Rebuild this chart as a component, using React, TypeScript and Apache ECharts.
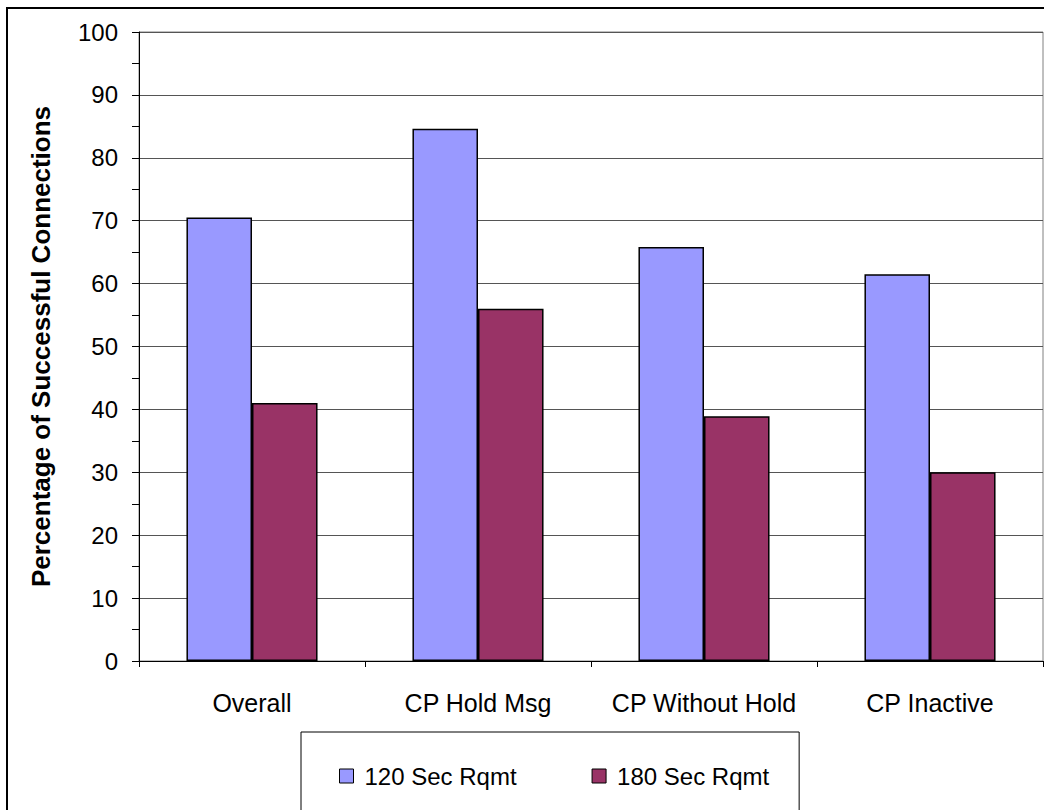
import React, { useEffect, useRef } from "react";
import * as echarts from "echarts";

const categories = ["Overall", "CP Hold Msg", "CP Without Hold", "CP Inactive"];
const seriesNames = ["120 Sec Rqmt", "180 Sec Rqmt"];
const rqmt120 = [70.5, 84.6, 65.8, 61.5];
const rqmt180 = [41, 56, 38.9, 30];
const yTicks = { min: 0, max: 100, interval: 10 };
const yTitle = "Percentage of Successful Connections";

const FONT = "'Liberation Sans', Arial, sans-serif";

export default function App() {
  const ref = useRef<HTMLDivElement>(null);

  useEffect(() => {
    if (!ref.current) return;
    const chart = echarts.init(ref.current, null, { renderer: "svg" });
    chart.setOption({
      animation: false,
      backgroundColor: "#ffffff",
      textStyle: { fontFamily: FONT },
      graphic: [
        {
          type: "rect",
          shape: { x: 7, y: 8, width: 1200, height: 1000 },
          style: { fill: "none", stroke: "#000", lineWidth: 2 },
          silent: true,
          z: 100,
        },
      ],
      grid: {
        left: 139,
        top: 32,
        right: 1,
        bottom: 149,
        show: true,
        borderColor: "#808080",
        borderWidth: 1,
        containLabel: false,
      },
      legend: {
        left: 301,
        top: 732,
        orient: "horizontal",
        padding: [32, 30, 40, 38],
        borderColor: "#000",
        borderWidth: 1,
        itemWidth: 14,
        itemHeight: 14,
        itemGap: 75,
        icon: "rect",
        textStyle: {
          fontFamily: FONT,
          fontSize: 24,
          color: "#000",
          padding: [0, 0, 0, 6],
        },
        data: seriesNames.map((n) => ({
          name: n,
          itemStyle: { borderColor: "#000", borderWidth: 1 },
        })),
      },
      xAxis: {
        type: "category",
        data: categories,
        axisLine: { lineStyle: { color: "#000", width: 1 } },
        axisTick: { show: true, interval: 0, length: 6, lineStyle: { color: "#000" } },
        axisLabel: {
          interval: 0,
          fontFamily: FONT,
          fontSize: 25,
          color: "#000",
          margin: 29,
        },
        splitLine: { show: false },
      },
      yAxis: {
        type: "value",
        min: yTicks.min,
        max: yTicks.max,
        interval: yTicks.interval,
        name: yTitle,
        nameLocation: "middle",
        nameRotate: 90,
        nameGap: 85,
        nameTextStyle: {
          fontFamily: FONT,
          fontSize: 26,
          fontWeight: "bold",
          color: "#000",
        },
        axisLine: { show: true, lineStyle: { color: "#000", width: 1 } },
        axisTick: { show: true, length: 7, lineStyle: { color: "#000" } },
        minorTick: { show: true, splitNumber: 2, length: 7, lineStyle: { color: "#000" } },
        axisLabel: { fontFamily: FONT, fontSize: 24, color: "#000", margin: 21 },
        splitLine: { show: true, lineStyle: { color: "#555", width: 1 } },
      },
      series: [
        {
          name: seriesNames[0],
          type: "bar",
          data: rqmt120,
          barGap: "0%",
          barCategoryGap: "42%",
          itemStyle: { color: "#9999FF", borderColor: "#000", borderWidth: 1.5 },
        },
        {
          name: seriesNames[1],
          type: "bar",
          data: rqmt180,
          barGap: "0%",
          barCategoryGap: "42%",
          itemStyle: { color: "#993366", borderColor: "#000", borderWidth: 1.5 },
        },
      ],
    });
    return () => chart.dispose();
  }, []);

  return (
    <div
      ref={ref}
      style={{ position: "absolute", left: 0, top: 0, width: 1044, height: 810 }}
    />
  );
}
